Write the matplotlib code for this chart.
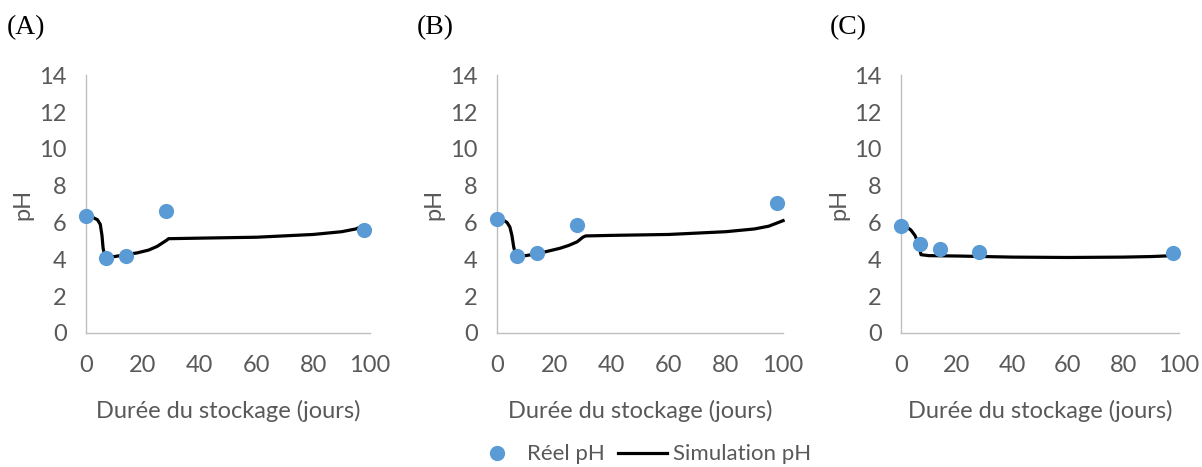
import matplotlib
matplotlib.use("Agg")
import matplotlib.pyplot as plt
from matplotlib.lines import Line2D

# measured points (days, pH)
days_obs = [0, 7, 14, 28, 98]
ph_obs_a = [6.35, 4.05, 4.2, 6.65, 5.6]
ph_obs_b = [6.2, 4.2, 4.35, 5.85, 7.05]
ph_obs_c = [5.8, 4.85, 4.55, 4.4, 4.35]

# simulated curves
days_sim_a = [0, 2, 4, 5, 5.6, 6, 6.5, 7, 10, 14, 18, 22, 25, 27, 28.5, 29, 40, 60, 80, 90, 95, 98]
ph_sim_a = [6.35, 6.3, 6.15, 5.9, 5.3, 4.6, 4.25, 4.15, 4.15, 4.25, 4.35, 4.5, 4.7, 4.9, 5.05, 5.12, 5.15, 5.2, 5.35, 5.5, 5.65, 5.85]
days_sim_b = [0, 2, 3.5, 4.5, 5.2, 5.8, 6.3, 7, 10, 14, 18, 22, 25, 28, 30, 31, 40, 60, 80, 90, 95, 100]
ph_sim_b = [6.2, 6.15, 6.0, 5.75, 5.3, 4.7, 4.35, 4.2, 4.2, 4.3, 4.45, 4.6, 4.75, 4.95, 5.2, 5.27, 5.3, 5.35, 5.5, 5.65, 5.8, 6.1]
days_sim_c = [0, 2, 3.5, 5, 6, 6.8, 7.2, 10, 20, 30, 40, 60, 80, 90, 98]
ph_sim_c = [5.8, 5.75, 5.6, 5.3, 4.95, 4.5, 4.25, 4.2, 4.18, 4.15, 4.12, 4.1, 4.12, 4.15, 4.2]

panel_labels = ["(A)", "(B)", "(C)"]
obs_series = [ph_obs_a, ph_obs_b, ph_obs_c]
sim_days = [days_sim_a, days_sim_b, days_sim_c]
sim_series = [ph_sim_a, ph_sim_b, ph_sim_c]

blue = "#5b9bd5"
grey_txt = "#595959"
spine_col = "#bfbfbf"
font = "Lato"
fsize = 17

fig = plt.figure(figsize=(12.02, 4.67), dpi=100)

# axes rectangles (fig fraction) taken from the reference layout
axes_left = [0.0716, 0.4135, 0.7496]
axes_width = [0.2363, 0.238, 0.2313]
bottom = 0.287
height = 0.552
label_x = [0.006, 0.347, 0.690]

for i in range(3):
    ax = fig.add_axes([axes_left[i], bottom, axes_width[i], height])
    ax.plot(sim_days[i], sim_series[i], color="black", lw=2.3, zorder=2, clip_on=False)
    ax.scatter(days_obs, obs_series[i], s=120, color=blue, zorder=3, clip_on=False, linewidths=0)
    ax.set_xlim(0, 100)
    ax.set_ylim(0, 14)
    ax.set_xticks(range(0, 101, 20))
    ax.set_yticks(range(0, 15, 2))
    for s in ["top", "right"]:
        ax.spines[s].set_visible(False)
    for s in ["left", "bottom"]:
        ax.spines[s].set_color(spine_col)
        ax.spines[s].set_linewidth(1.0)
    ax.tick_params(axis="both", length=0, labelsize=fsize, labelcolor=grey_txt)
    ax.tick_params(axis="y", pad=14)
    ax.tick_params(axis="x", pad=16)
    for lab in ax.get_xticklabels() + ax.get_yticklabels():
        lab.set_fontfamily(font)
    ax.set_xlabel("Durée du stockage (jours)", fontsize=fsize, color=grey_txt, family=font, labelpad=17)
    ax.set_ylabel("pH", fontsize=fsize, color=grey_txt, family=font)
    ax.yaxis.set_label_coords(-0.185, 0.5)
    fig.text(label_x[i], 0.94, panel_labels[i], fontsize=20, family="Liberation Serif",
             color="black", va="center", ha="left")

handles = [
    Line2D([], [], marker="o", color=blue, linestyle="none", markersize=11, markeredgewidth=0),
    Line2D([], [], color="black", lw=2.3),
]
leg = fig.legend(handles, ["Réel pH", "Simulation pH"], loc="center", ncol=2,
                 bbox_to_anchor=(0.534, 0.027), frameon=False,
                 handlelength=2.2, handletextpad=0.25, columnspacing=0.6,
                 prop={"family": font, "size": 16})
for t in leg.get_texts():
    t.set_color(grey_txt)

fig.savefig("out.png", dpi=100)
